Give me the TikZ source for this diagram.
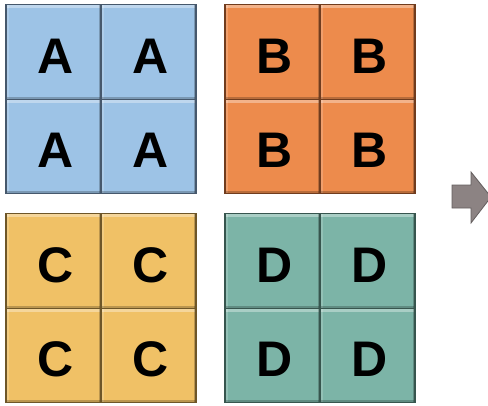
\documentclass[tikz,border=0pt]{standalone}
\usepackage{fontspec}
\setmainfont{Liberation Sans}
\definecolor{aFill}{RGB}{157,195,230}
\definecolor{aLine}{RGB}{70,88,108}
\definecolor{bFill}{RGB}{237,139,76}
\definecolor{bLine}{RGB}{112,60,30}
\definecolor{cFill}{RGB}{240,193,102}
\definecolor{cLine}{RGB}{110,86,40}
\definecolor{dFill}{RGB}{124,180,167}
\definecolor{dLine}{RGB}{55,85,78}
\definecolor{arrFill}{RGB}{140,131,131}
\definecolor{arrLine}{RGB}{100,94,94}
\tikzset{
  tile/.style={draw=#1Line, fill=#1Fill, line width=1.3pt,
    minimum width=95pt, minimum height=94.5pt, inner sep=0pt,
    text depth=0pt,
    font=\fontsize{50}{50}\selectfont\bfseries,
    path picture={
      \fill[white,opacity=0.35] (path picture bounding box.north west)
        rectangle ([yshift=-3.5pt]path picture bounding box.north east);
      \fill[white,opacity=0.18] (path picture bounding box.north west)
        rectangle ([xshift=2.5pt]path picture bounding box.south west);
      \fill[black,opacity=0.22] (path picture bounding box.south west)
        rectangle ([yshift=2.5pt]path picture bounding box.south east);
      \fill[black,opacity=0.22] (path picture bounding box.north east)
        rectangle ([xshift=-2.5pt]path picture bounding box.south east);
    }},
  lbl/.style={yshift=-19pt}
}
\begin{document}
\begin{tikzpicture}[x=1pt,y=-1pt]
\useasboundingbox (0,0) rectangle (488,405);
% A group
\node[tile=a] (a1) at (53.5,52) {};
\node[tile=a] (a2) at (148.5,52) {};
\node[tile=a] (a3) at (53.5,146.5) {};
\node[tile=a] (a4) at (148.5,146.5) {};
% B group
\node[tile=b] (b1) at (272.5,52) {};
\node[tile=b] (b2) at (367.5,52) {};
\node[tile=b] (b3) at (272.5,146.5) {};
\node[tile=b] (b4) at (367.5,146.5) {};
% C group
\node[tile=c] (c1) at (53.5,261) {};
\node[tile=c] (c2) at (148.5,261) {};
\node[tile=c] (c3) at (53.5,355.5) {};
\node[tile=c] (c4) at (148.5,355.5) {};
% D group
\node[tile=d] (d1) at (272.5,261) {};
\node[tile=d] (d2) at (367.5,261) {};
\node[tile=d] (d3) at (272.5,355.5) {};
\node[tile=d] (d4) at (367.5,355.5) {};
% letters
\foreach \n/\l in {a1/A,a2/A,a3/A,a4/A,b1/B,b2/B,b3/B,b4/B,c1/C,c2/C,c3/C,c4/C,d1/D,d2/D,d3/D,d4/D}{
  \node[font=\fontsize{50}{50}\selectfont\bfseries, anchor=base, inner sep=0pt]
    (t\n) at ([xshift=2pt,yshift=-21pt]\n.center) {\l};
}
% arrow
\draw[fill=arrFill, draw=arrLine, line width=0.8pt, line join=miter]
  (452,185) -- (471,185) -- (471,172) -- (491,197) -- (471,223) -- (471,208) -- (452,208) -- cycle;
\end{tikzpicture}
\end{document}
